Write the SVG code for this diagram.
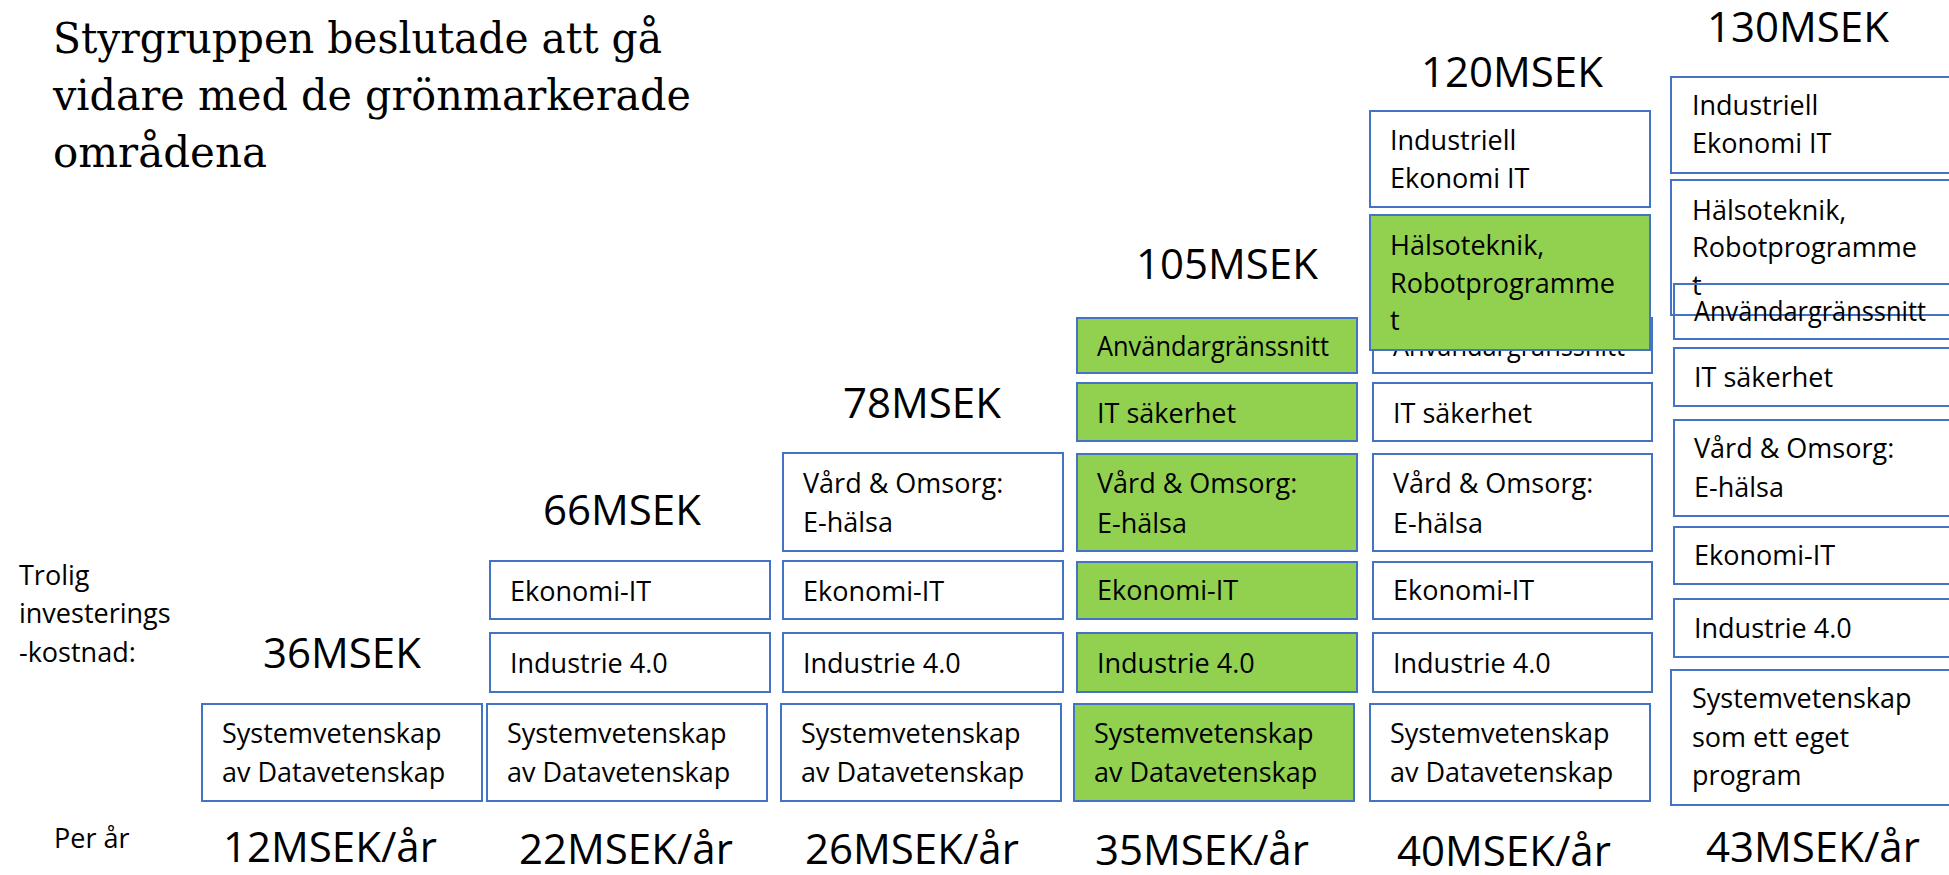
<svg xmlns="http://www.w3.org/2000/svg" width="1949" height="875" viewBox="0 0 1949 875">
<style>
.bg{fill:#ffffff}
.box{fill:#ffffff;stroke:#4472C4;stroke-width:2}
.open{fill:none;stroke:#4472C4;stroke-width:2}
.green{fill:#92D050;stroke:#4472C4;stroke-width:2}
.t{font-family:"Open Sans","Noto Sans",sans-serif;font-size:27px;fill:#000}
.big{font-family:"Open Sans","Noto Sans",sans-serif;font-size:42px;fill:#000}
.title{font-family:"DejaVu Serif","Liberation Serif",serif;font-size:42px;fill:#000}
</style>
<rect class="bg" x="0" y="0" width="1949" height="875"/>

<g id="title">
<text class="title" x="53" y="53" textLength="609" lengthAdjust="spacingAndGlyphs">Styrgruppen beslutade att gå</text>
<text class="title" x="53" y="110" textLength="638" lengthAdjust="spacingAndGlyphs">vidare med de grönmarkerade</text>
<text class="title" x="53" y="167" textLength="214" lengthAdjust="spacingAndGlyphs">områdena</text>
</g>

<g id="labels">
<text class="t" x="19" y="585">Trolig</text>
<text class="t" x="19" y="623">investerings</text>
<text class="t" x="19" y="662">-kostnad:</text>
<text class="t" x="54" y="848">Per år</text>
</g>

<g id="totals">
<text class="big" x="263" y="668">36MSEK</text>
<text class="big" x="543" y="525">66MSEK</text>
<text class="big" x="843" y="418">78MSEK</text>
<text class="big" x="1136" y="279">105MSEK</text>
<text class="big" x="1421" y="87">120MSEK</text>
<text class="big" x="1707" y="42">130MSEK</text>
</g>

<g id="peryear">
<text class="big" x="223" y="862">12MSEK/år</text>
<text class="big" x="519" y="864">22MSEK/år</text>
<text class="big" x="805" y="864">26MSEK/år</text>
<text class="big" x="1095" y="865">35MSEK/år</text>
<text class="big" x="1397" y="866">40MSEK/år</text>
<text class="big" x="1706" y="862">43MSEK/år</text>
</g>

<g id="connectors"></g>

<!-- Column 1 -->
<g id="c1-sys"><rect class="box" x="202" y="704" width="280" height="97"/><text class="t" x="222" y="743">Systemvetenskap</text><text class="t" x="222" y="782">av Datavetenskap</text></g>

<!-- Column 2 -->
<g id="c2-eko"><rect class="box" x="490" y="561" width="280" height="58"/><text class="t" x="510" y="601">Ekonomi-IT</text></g>
<g id="c2-ind"><rect class="box" x="490" y="633" width="280" height="59"/><text class="t" x="510" y="673">Industrie 4.0</text></g>
<g id="c2-sys"><rect class="box" x="487" y="704" width="280" height="97"/><text class="t" x="507" y="743">Systemvetenskap</text><text class="t" x="507" y="782">av Datavetenskap</text></g>

<!-- Column 3 -->
<g id="c3-vard"><rect class="box" x="783" y="453" width="280" height="98"/><text class="t" x="803" y="493">Vård &amp; Omsorg:</text><text class="t" x="803" y="532">E-hälsa</text></g>
<g id="c3-eko"><rect class="box" x="783" y="561" width="280" height="58"/><text class="t" x="803" y="601">Ekonomi-IT</text></g>
<g id="c3-ind"><rect class="box" x="783" y="633" width="280" height="59"/><text class="t" x="803" y="673">Industrie 4.0</text></g>
<g id="c3-sys"><rect class="box" x="781" y="704" width="280" height="97"/><text class="t" x="801" y="743">Systemvetenskap</text><text class="t" x="801" y="782">av Datavetenskap</text></g>

<!-- Column 4 (green) -->
<g id="c4-anv"><rect class="green" x="1077" y="318" width="280" height="55"/><text class="t" x="1097" y="356" textLength="232" lengthAdjust="spacingAndGlyphs">Användargränssnitt</text></g>
<g id="c4-it"><rect class="green" x="1077" y="383" width="280" height="58"/><text class="t" x="1097" y="423">IT säkerhet</text></g>
<g id="c4-vard"><rect class="green" x="1077" y="454" width="280" height="97"/><text class="t" x="1097" y="493">Vård &amp; Omsorg:</text><text class="t" x="1097" y="533">E-hälsa</text></g>
<g id="c4-eko"><rect class="green" x="1077" y="562" width="280" height="57"/><text class="t" x="1097" y="600">Ekonomi-IT</text></g>
<g id="c4-ind"><rect class="green" x="1077" y="633" width="280" height="59"/><text class="t" x="1097" y="673">Industrie 4.0</text></g>
<g id="c4-sys"><rect class="green" x="1074" y="704" width="280" height="97"/><text class="t" x="1094" y="743">Systemvetenskap</text><text class="t" x="1094" y="782">av Datavetenskap</text></g>

<!-- Column 5 -->
<g id="c5-indek"><rect class="box" x="1370" y="111" width="280" height="96"/><text class="t" x="1390" y="150">Industriell</text><text class="t" x="1390" y="188">Ekonomi IT</text></g>
<g id="c5-anv"><rect class="box" x="1373" y="318" width="279" height="55"/><text class="t" x="1393" y="356" textLength="232" lengthAdjust="spacingAndGlyphs">Användargränssnitt</text></g>
<g id="c5-halso"><rect class="green" x="1370" y="215" width="280" height="135"/><text class="t" x="1390" y="255">Hälsoteknik,</text><text class="t" x="1390" y="293">Robotprogramme</text><text class="t" x="1390" y="330">t</text></g>
<g id="c5-it"><rect class="box" x="1373" y="383" width="279" height="58"/><text class="t" x="1393" y="423">IT säkerhet</text></g>
<g id="c5-vard"><rect class="box" x="1373" y="454" width="279" height="97"/><text class="t" x="1393" y="493">Vård &amp; Omsorg:</text><text class="t" x="1393" y="533">E-hälsa</text></g>
<g id="c5-eko"><rect class="box" x="1373" y="562" width="279" height="57"/><text class="t" x="1393" y="600">Ekonomi-IT</text></g>
<g id="c5-ind"><rect class="box" x="1373" y="633" width="279" height="59"/><text class="t" x="1393" y="673">Industrie 4.0</text></g>
<g id="c5-sys"><rect class="box" x="1370" y="704" width="280" height="97"/><text class="t" x="1390" y="743">Systemvetenskap</text><text class="t" x="1390" y="782">av Datavetenskap</text></g>

<!-- Column 6 -->
<g id="c6-indek"><rect class="open" x="1671" y="77" width="300" height="96"/><text class="t" x="1692" y="115">Industriell</text><text class="t" x="1692" y="153">Ekonomi IT</text></g>
<g id="c6-halso"><rect class="open" x="1671" y="180" width="300" height="135"/><text class="t" x="1692" y="220">Hälsoteknik,</text><text class="t" x="1692" y="257">Robotprogramme</text><text class="t" x="1692" y="295">t</text></g>
<g id="c6-anv"><rect class="open" x="1674" y="284" width="300" height="55"/><text class="t" x="1694" y="321" textLength="232" lengthAdjust="spacingAndGlyphs">Användargränssnitt</text></g>
<g id="c6-it"><rect class="open" x="1674" y="348" width="300" height="58"/><text class="t" x="1694" y="387">IT säkerhet</text></g>
<g id="c6-vard"><rect class="open" x="1674" y="420" width="300" height="96"/><text class="t" x="1694" y="458">Vård &amp; Omsorg:</text><text class="t" x="1694" y="497">E-hälsa</text></g>
<g id="c6-eko"><rect class="open" x="1674" y="527" width="300" height="57"/><text class="t" x="1694" y="565">Ekonomi-IT</text></g>
<g id="c6-ind"><rect class="open" x="1674" y="599" width="300" height="58"/><text class="t" x="1694" y="638">Industrie 4.0</text></g>
<g id="c6-sys"><rect class="open" x="1671" y="670" width="300" height="135"/><text class="t" x="1692" y="708">Systemvetenskap</text><text class="t" x="1692" y="747">som ett eget</text><text class="t" x="1692" y="785">program</text></g>
</svg>
